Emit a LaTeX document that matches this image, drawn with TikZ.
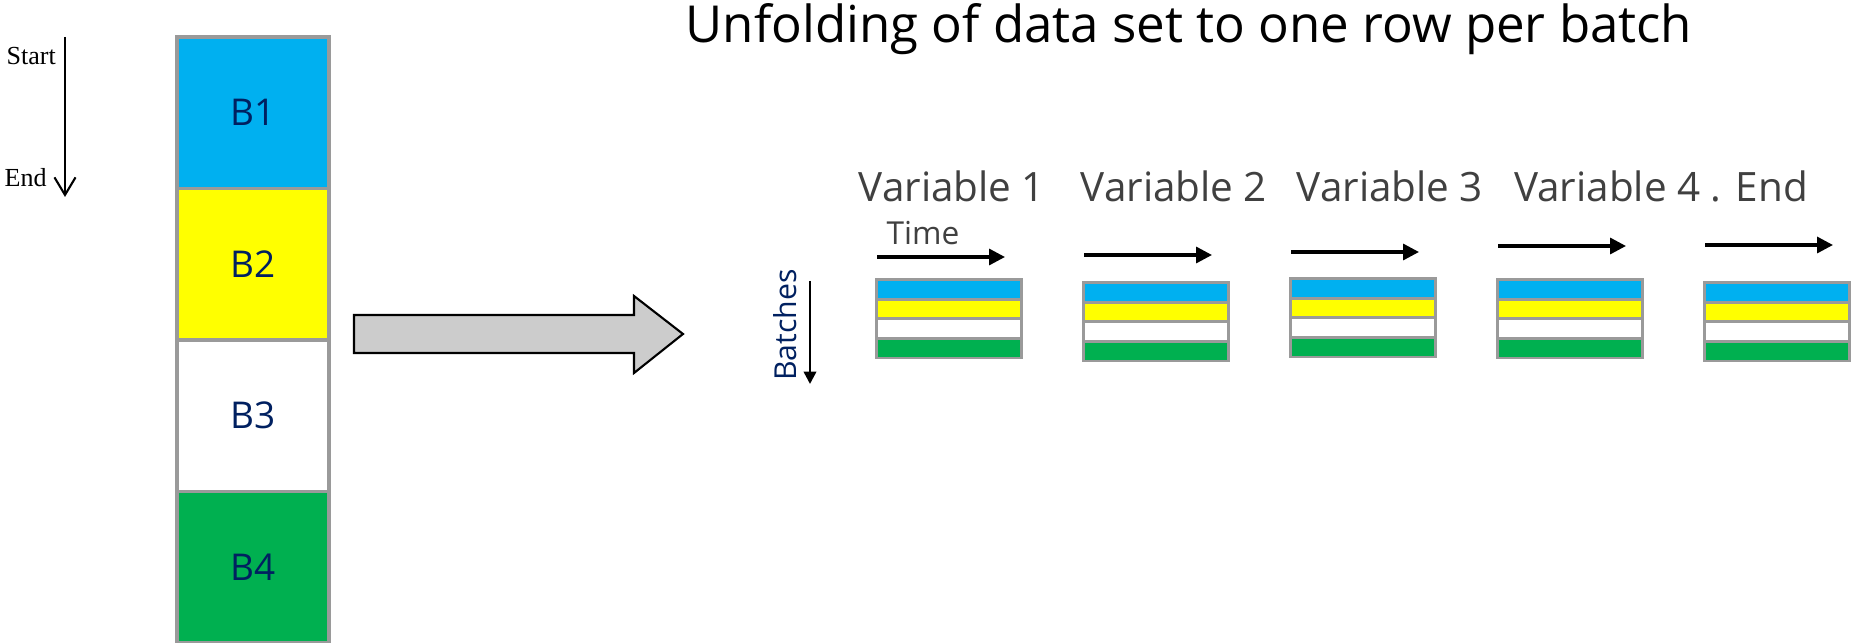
\documentclass[tikz,border=0pt]{standalone}
\usepackage{fontspec}
\setmainfont{Open Sans}
\newfontfamily\timesfont{Liberation Serif}
\usetikzlibrary{arrows,arrows.meta}

\definecolor{bblue}{HTML}{00B0F0}
\definecolor{byellow}{HTML}{FFFF00}
\definecolor{bgreen}{HTML}{00B050}
\definecolor{bnavy}{HTML}{002060}
\definecolor{txtgrey}{HTML}{404040}
\definecolor{edgegrey}{HTML}{9A9A9A}
\definecolor{shaftgrey}{HTML}{CCCCCC}

\tikzset{
    blk/.style={draw=edgegrey,line width=0.9pt,minimum width=1.52cm,minimum height=1.515cm,
        inner sep=0pt,text=bnavy,font=\fontsize{10.5}{12}\selectfont},
    batchrow/.style={draw=edgegrey,line width=0.85pt,minimum width=1.44cm,minimum height=0.195cm,
        inner sep=0pt,outer sep=0pt},
    varlabel/.style={anchor=base,inner sep=0pt,text=txtgrey,font=\fontsize{11.5}{13}\selectfont},
    timearrow/.style={-{Triangle[length=4.5pt,width=4.5pt]},line width=0.95pt}
}

\begin{document}
\begin{tikzpicture}[x=0.01cm,y=-0.01cm]
    \useasboundingbox (0,0) rectangle (1854,643);
    \node[anchor=base west,inner sep=0pt,font=\timesfont\fontsize{7.4}{8}\selectfont] (start) at (6,65) {Start};
    \node[anchor=base west,inner sep=0pt,font=\timesfont\fontsize{7.4}{8}\selectfont] (end) at (4,187) {End};
    \coordinate (flowtop) at (65,37);
    \coordinate (flowbot) at (65,197);
    \draw[-{Straight Barb[length=5pt,width=6pt]},line width=0.6pt] (flowtop) -- (flowbot);
    \foreach \n/\c [count=\i] in {B1/bblue,B2/byellow,B3/white,B4/bgreen}
        \node[blk,fill=\c] (b\i) at (253,{37+151.5*(\i-0.5)}) {\n};
    \draw[fill=shaftgrey,line width=0.6pt] (354,315) -- (634,315) -- (634,296) -- (683,334)
        -- (634,373) -- (634,353) -- (354,353) -- cycle;
    \node[font=\fontsize{14.5}{17}\selectfont] (title) at (1189,29) {Unfolding of data set to one row per batch};
    \foreach \t/\x [count=\i] in {Variable 1/952,Variable 2/1174,Variable 3/1390,Variable 4 . End/1661}
        \node[varlabel] (var\i) at (\x,202) {\t};
    \node[anchor=base west,inner sep=0pt,text=txtgrey,font=\fontsize{9}{10}\selectfont] (time) at (886,245) {Time};
    \node[rotate=90,inner sep=0pt,text=bnavy,font=\fontsize{8.6}{10}\selectfont] (batches) at (785,325) {Batches};
    \coordinate (bt) at (810,281);
    \coordinate (bb) at (810,384);
    \draw[-{Triangle[length=3.5pt,width=3.5pt]},line width=0.7pt] (bt) -- (bb);
    \foreach \x/\y/\ay [count=\i] in {877/280/257,1084/283/255,1291/279/252,1498/280/246,1705/283/245}
      {
        \foreach \c [count=\j] in {bblue,byellow,white,bgreen}
            \node[batchrow,fill=\c] (r\i-\j) at ({\x+72},{\y+19.5*(\j-0.5)}) {};
        \coordinate (ta\i) at (\x,\ay);
        \coordinate (tb\i) at ({\x+128},\ay);
        \draw[timearrow] (ta\i) -- (tb\i);
      };
\end{tikzpicture}
\end{document}
